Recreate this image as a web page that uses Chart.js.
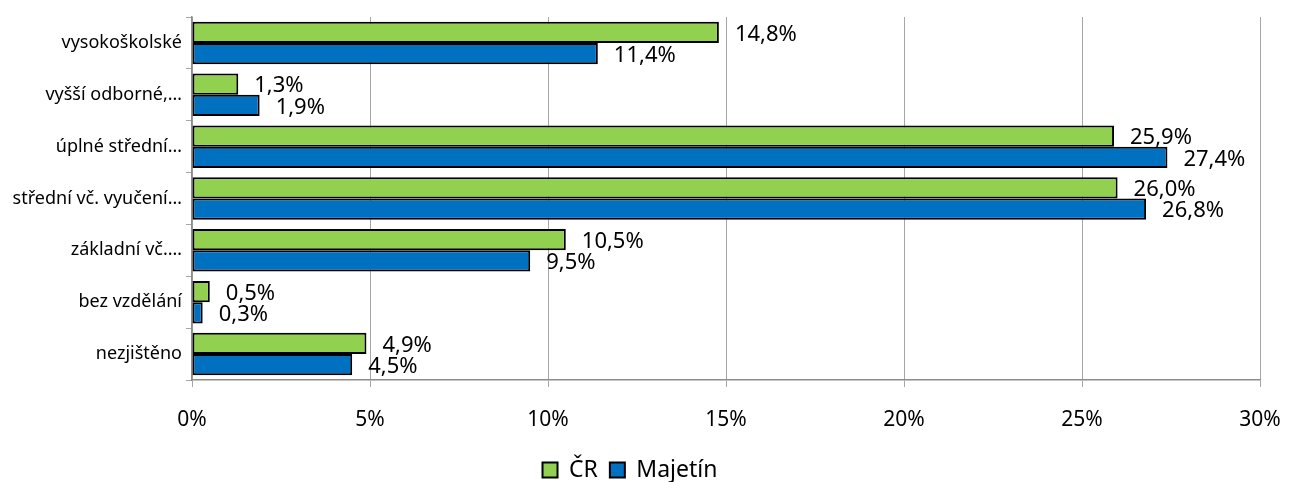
<!DOCTYPE html>
<html lang="cs">
<head>
  <meta charset="UTF-8">
  <title>Vzdělání</title>
  <style>
    html, body { margin: 0; padding: 0; background: #fff; }
    #wrap { width: 1289px; height: 482px; }
  </style>
  <script src="https://cdn.jsdelivr.net/npm/chart.js"></script>
</head>
<body>
  <div id="wrap"><canvas id="eduChart" width="1289" height="482"></canvas></div>

  <script>
    const categories = ['vysokoškolské', 'vyšší odborné,…', 'úplné střední…', 'střední vč. vyučení…', 'základní vč.…', 'bez vzdělání', 'nezjištěno'];
    const crValues = [14.8, 1.3, 25.9, 26.0, 10.5, 0.5, 4.9];
    const majetinValues = [11.4, 1.9, 27.4, 26.8, 9.5, 0.3, 4.5];
    const xTicks = [0, 5, 10, 15, 20, 25, 30];

    const font = "'Noto Sans', 'DejaVu Sans', sans-serif";

    // labels next to the bar ends, like the excel data labels
    const valueLabels = {
      id: 'valueLabels',
      afterDatasetsDraw(chart) {
        const ctx = chart.ctx;
        ctx.save();
        ctx.font = '22px ' + font;
        ctx.fillStyle = '#000';
        ctx.textAlign = 'left';
        ctx.textBaseline = 'middle';
        chart.data.datasets.forEach((ds, i) => {
          chart.getDatasetMeta(i).data.forEach((bar, j) => {
            const txt = ds.data[j].toFixed(1).replace('.', ',') + '%';
            ctx.fillText(txt, bar.x + 16, bar.y + 2);
          });
        });
        ctx.restore();
      }
    };

    new Chart(document.getElementById('eduChart'), {
      type: 'bar',
      data: {
        labels: categories,
        datasets: [
          { label: 'ČR', data: crValues, backgroundColor: '#92d050', borderColor: '#000', borderWidth: 2, borderSkipped: false },
          { label: 'Majetín', data: majetinValues, backgroundColor: '#0070c0', borderColor: '#000', borderWidth: 2, borderSkipped: false }
        ]
      },
      options: {
        indexAxis: 'y',
        responsive: false,
        animation: false,
        layout: { padding: { top: 17, right: 29, left: 0, bottom: -9.5 } },
        datasets: { bar: { categoryPercentage: 0.82, barPercentage: 1.0 } },
        plugins: {
          tooltip: { enabled: false },
          legend: {
            position: 'bottom',
            labels: {
              font: { family: font, size: 23 },
              color: '#000',
              boxWidth: 15,
              boxHeight: 15,
              padding: 12
            }
          }
        },
        scales: {
          x: {
            min: 0,
            max: 30,
            afterBuildTicks: s => { s.ticks = xTicks.map(v => ({ value: v })); },
            afterFit: s => { s.height = 66.5; s.paddingLeft = 0; s.paddingRight = 0; },
            ticks: {
              callback: v => v + '%',
              font: { family: font, size: 21 },
              color: '#000',
              padding: 20,
              maxRotation: 0
            },
            grid: { color: '#a6a6a6', lineWidth: 1, tickLength: 7 },
            border: { color: '#8c8c8c', width: 1.5 }
          },
          y: {
            afterFit: s => { s.width = 192; },
            ticks: {
              font: { family: font, size: 18 },
              color: '#000',
              padding: 4
            },
            grid: { drawOnChartArea: false, color: '#a6a6a6', tickLength: 6, offset: true },
            border: { color: '#8c8c8c', width: 1.5 }
          }
        }
      },
      plugins: [valueLabels]
    });
  </script>
</body>
</html>
